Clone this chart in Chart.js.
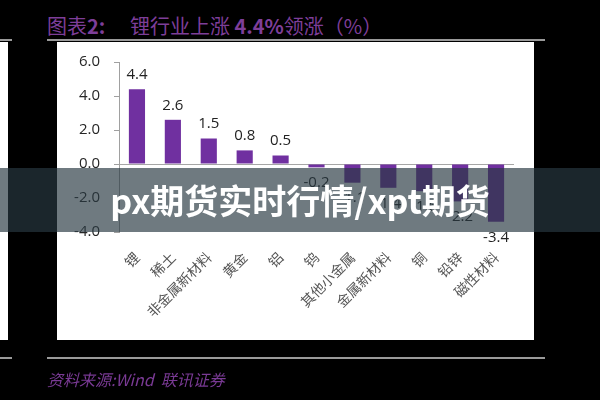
<!DOCTYPE html>
<html>
<head>
<meta charset="utf-8">
<script src="https://cdn.jsdelivr.net/npm/chart.js@4"></script>
<style>
  html, body { margin: 0; padding: 0; }
  body { width: 600px; height: 400px; background: #000; position: relative; overflow: hidden; font-family: "Noto Sans CJK SC", sans-serif; }
  .abs { position: absolute; }
  .line { position: absolute; height: 2px; background: #9a9a9a; }
  #title { left: 47px; top: 11px; color: #7e3e99; font-size: 20px; white-space: nowrap; }
  #title .lead { display: inline-block; width: 83px; }
  #source { left: 47px; top: 367px; color: #7a3a95; font-size: 16px; font-style: italic; white-space: nowrap; }
  #panel { left: 57px; top: 42px; width: 477px; height: 298px; background: #fff; }
  #strip { left: 0; top: 42px; width: 8px; height: 298px; background: #fff; }
  #chart { position: absolute; left: 0; top: 0; }
  #band { left: 0; top: 168px; width: 600px; height: 64px; background: rgba(41, 57, 66, 0.67);
          color: #fff; font-weight: bold; font-size: 34px; line-height: 64px; text-align: center; white-space: nowrap; }
</style>
</head>
<body>
<div id="title" class="abs"><span class="lead">图表<b>2:</b></span>锂行业上涨 <b>4.4%</b>领涨（%）</div>
<div class="line" style="left:0; top:39px; width:12px;"></div>
<div class="line" style="left:47px; top:39px; width:498px;"></div>
<div id="strip" class="abs"></div>
<div id="panel" class="abs"></div>
<canvas id="chart" width="600" height="400"></canvas>
<div class="line" style="left:0; top:357px; width:12px;"></div>
<div class="line" style="left:47px; top:357px; width:498px;"></div>
<div id="source" class="abs">资料来源:Wind&nbsp; 联讯证券</div>
<div id="band" class="abs">px期货实时行情/xpt期货</div>

<script>
// 各行业涨跌幅 (%)
var categories = ["锂", "稀土", "非金属新材料", "黄金", "铝", "钨", "其他小金属", "金属新材料", "铜", "铅锌", "磁性材料"];
var changes = [4.4, 2.6, 1.5, 0.8, 0.5, -0.2, -1.1, -1.4, -1.6, -2.2, -3.4];
var yMin = -4;
var yMax = 6;
var yStep = 2;

// value labels above / below each bar
var valueLabels = {
    id: "valueLabels",
    afterDatasetsDraw: function (chart) {
        var ctx = chart.ctx;
        var meta = chart.getDatasetMeta(0);
        ctx.save();
        ctx.font = '15px "Open Sans"';
        ctx.fillStyle = "#222";
        ctx.textAlign = "center";
        meta.data.forEach(function (bar, i) {
            var v = changes[i];
            if (v >= 0) {
                ctx.textBaseline = "bottom";
                ctx.fillText(v.toFixed(1), bar.x, bar.y - 7);
            } else {
                ctx.textBaseline = "top";
                ctx.fillText(v.toFixed(1), bar.x, bar.y + 8);
            }
        });
        ctx.restore();
    }
};

var barChart = new Chart(document.getElementById("chart"), {
    type: "bar",
    data: {
        labels: categories,
        datasets: [{
            data: changes,
            backgroundColor: "#7030a0",
            barPercentage: 0.45,
            categoryPercentage: 1
        }]
    },
    options: {
        responsive: false,
        animation: false,
        devicePixelRatio: 1,
        layout: { padding: { left: 60, right: 86, top: 62, bottom: 48 } },
        plugins: {
            legend: { display: false },
            tooltip: { enabled: false }
        },
        scales: {
            x: {
                grid: { display: false, drawTicks: false },
                border: { display: false },
                ticks: {
                    autoSkip: false,
                    minRotation: 45,
                    maxRotation: 45,
                    padding: 17,
                    color: "#555",
                    font: { family: "Noto Sans CJK SC", size: 14 }
                },
                afterFit: function (scale) { scale.height = 120; }
            },
            y: {
                min: yMin,
                max: yMax,
                border: { display: true, color: "#a0a0a0", width: 1 },
                grid: {
                    color: function (c) { return c.tick && c.tick.value === 0 ? "#a6a6a6" : "rgba(0,0,0,0)"; },
                    tickColor: "#a0a0a0",
                    tickLength: 5
                },
                ticks: {
                    stepSize: yStep,
                    padding: 14,
                    color: "#262626",
                    font: { family: "Open Sans", size: 15 },
                    callback: function (v) { return v.toFixed(1); }
                },
                afterFit: function (scale) { scale.width = 59; }
            }
        }
    },
    plugins: [valueLabels]
});
</script>
</body>
</html>
